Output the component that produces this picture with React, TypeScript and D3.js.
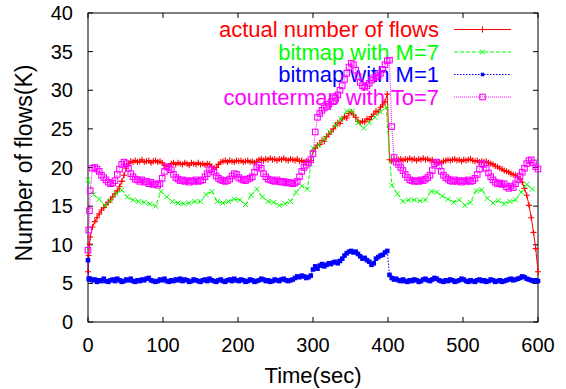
import React from 'react';
import * as d3 from 'd3';

const W = 566;
const H = 389;

const X_TICKS = [0, 100, 200, 300, 400, 500, 600];
const Y_TICKS = [0, 5, 10, 15, 20, 25, 30, 35, 40];

// common time axis (sec) for actual / bitmap M=1 / countermap
const TIME = [
  0, 1, 2,
  3, 6, 9, 12, 15, 18, 21, 24, 27, 30,
  33, 36, 39, 42, 45, 48, 51, 54, 57, 60,
  63, 66, 69, 72, 75, 78, 81, 84, 87, 90,
  93, 96, 99, 102, 105, 108, 111, 114, 117, 120,
  123, 126, 129, 132, 135, 138, 141, 144, 147, 150,
  153, 156, 159, 162, 165, 168, 171, 174, 177, 180,
  183, 186, 189, 192, 195, 198, 201, 204, 207, 210,
  213, 216, 219, 222, 225, 228, 231, 234, 237, 240,
  243, 246, 249, 252, 255, 258, 261, 264, 267, 270,
  273, 276, 279, 282, 285, 288, 291, 294, 297, 300,
  303, 306, 309, 312, 315, 318, 321, 324, 327, 330,
  333, 336, 339, 342, 345, 348, 351, 354, 357, 360,
  363, 366, 369, 372, 375, 378, 381, 384, 387, 390,
  393, 396, 399, 402, 405, 408, 411, 414, 417, 420,
  423, 426, 429, 432, 435, 438, 441, 444, 447, 450,
  453, 456, 459, 462, 465, 468, 471, 474, 477, 480,
  483, 486, 489, 492, 495, 498, 501, 504, 507, 510,
  513, 516, 519, 522, 525, 528, 531, 534, 537, 540,
  543, 546, 549, 552, 555, 558, 561, 564, 567, 570,
  573, 576, 579, 582, 585, 588, 591, 594, 597, 600,
];

const ACTUAL = [
  6.5, 8.6, 10.1,
  11.0, 12.3, 13.0, 13.5, 14.0, 14.5, 14.8, 15.2, 15.5, 15.8,
  16.2, 16.6, 17.0, 17.5, 18.2, 19.0, 19.9, 20.5, 20.8, 20.7,
  20.9, 20.7, 20.8, 21.0, 20.7, 20.8, 20.9, 20.6, 20.8, 20.9,
  20.7, 20.8, 20.6, 20.3, 20.1, 20.2, 20.5, 20.6, 20.4, 20.6,
  20.5, 20.4, 20.6, 20.5, 20.3, 20.6, 20.5, 20.4, 20.6, 20.4,
  20.5, 20.3, 20.5, 20.4, 20.1, 19.9, 20.0, 20.4, 20.7, 20.8,
  20.9, 20.7, 20.9, 20.8, 20.7, 20.9, 20.8, 20.9, 20.7, 20.8,
  20.9, 20.7, 20.8, 20.6, 20.8, 21.0, 21.1, 20.9, 21.1, 21.0,
  21.2, 21.0, 21.1, 20.9, 21.1, 21.0, 21.2, 21.0, 20.9, 21.1,
  21.0, 20.9, 21.1, 20.8, 20.9, 20.7, 20.8, 20.7, 20.9, 22.1,
  22.5, 22.9, 23.0, 23.5, 23.4, 24.0, 24.3, 24.6, 25.0, 25.4,
  25.8, 25.7, 26.3, 26.6, 26.4, 27.0, 27.2, 26.8, 26.5, 26.0,
  25.8, 26.0, 25.9, 26.3, 26.2, 26.6, 26.9, 27.3, 27.2, 27.8,
  28.1, 28.5, 29.5, 21.0, 20.8, 21.1, 20.9, 21.0, 21.1, 20.9,
  21.1, 21.0, 21.2, 21.0, 21.1, 20.9, 21.1, 21.0, 21.2, 21.0,
  21.1, 20.9, 21.0, 20.7, 20.6, 20.7, 20.6, 20.8, 20.9, 21.0,
  20.9, 21.0, 21.1, 20.9, 21.0, 20.8, 21.0, 20.9, 21.0, 21.1,
  20.9, 20.8, 20.9, 20.7, 20.8, 20.7, 20.8, 20.6, 20.5, 20.4,
  20.2, 20.1, 19.9, 19.8, 19.6, 19.5, 19.4, 19.2, 19.1, 19.0,
  18.8, 18.5, 18.1, 17.3, 16.4, 15.1, 13.5, 11.6, 9.5, 6.5,
];

const BITMAP_M1 = [
  8.0, 5.6, 5.5,
  5.6, 5.4, 5.5, 5.2, 5.4, 5.3, 5.6, 5.3, 5.2, 5.4,
  5.5, 5.3, 5.6, 5.4, 5.2, 5.3, 5.5, 5.4, 5.6, 5.3,
  5.2, 5.4, 5.3, 5.5, 5.4, 5.6, 5.7, 5.4, 5.3, 5.2,
  5.3, 5.5, 5.4, 5.6, 5.3, 5.2, 5.4, 5.3, 5.5, 5.4,
  5.6, 5.3, 5.5, 5.4, 5.2, 5.3, 5.5, 5.4, 5.3, 5.2,
  5.4, 5.5, 5.3, 5.6, 5.4, 5.3, 5.2, 5.4, 5.5, 5.3,
  5.2, 5.4, 5.5, 5.3, 5.6, 5.4, 5.3, 5.5, 5.4, 5.2,
  5.3, 5.5, 5.4, 5.2, 5.3, 5.4, 5.6, 5.5, 5.3, 5.4,
  5.2, 5.3, 5.5, 5.4, 5.3, 5.5, 5.6, 5.4, 5.3, 5.4,
  5.5, 5.7, 5.9, 5.8, 6.0, 5.9, 5.7, 5.8, 6.0, 6.8,
  7.2, 6.9, 7.3, 7.5, 7.2, 7.4, 7.6, 7.5, 7.7, 7.8,
  7.6, 7.9, 8.2, 8.6, 8.9, 9.1, 9.2, 9.0, 9.1, 8.8,
  8.5, 8.2, 8.3, 8.0, 7.8, 7.4, 7.6, 8.2, 8.4, 8.6,
  8.7, 9.0, 9.2, 6.1, 5.7, 5.5, 5.6, 5.4, 5.3, 5.5,
  5.3, 5.2, 5.4, 5.3, 5.5, 5.4, 5.2, 5.3, 5.5, 5.6,
  5.4, 5.3, 5.5, 5.7, 5.6, 5.4, 5.3, 5.2, 5.4, 5.3,
  5.5, 5.4, 5.2, 5.3, 5.4, 5.6, 5.5, 5.3, 5.2, 5.4,
  5.3, 5.2, 5.4, 5.5, 5.3, 5.4, 5.2, 5.3, 5.5, 5.4,
  5.2, 5.3, 5.4, 5.2, 5.3, 5.4, 5.5, 5.6, 5.4, 5.5,
  5.6, 5.7, 5.9, 5.8, 5.6, 5.5, 5.4, 5.3, 5.4, 5.3,
];

const COUNTERMAP = [
  9.3, 11.9, 14.4,
  17.0, 19.9, 20.0, 19.8, 19.5, 19.0, 18.7, 18.4, 18.1, 17.9,
  18.0, 18.3, 19.1, 19.8, 20.4, 20.7, 20.5, 19.9, 19.2, 18.8,
  18.5, 18.4, 18.2, 18.4, 18.1, 18.2, 17.9, 18.1, 17.8, 17.9,
  17.7, 17.9, 18.6, 19.5, 20.1, 20.0, 19.7, 19.1, 18.7, 18.5,
  18.3, 18.4, 18.2, 18.3, 18.1, 18.3, 18.2, 18.4, 18.2, 18.3,
  18.4, 18.8, 19.2, 19.7, 19.8, 19.4, 18.9, 18.6, 18.4, 18.3,
  18.2, 18.3, 18.5, 18.9, 19.2, 19.1, 18.7, 18.5, 18.4, 18.3,
  18.5, 18.6, 18.8, 19.4, 20.0, 20.3, 19.9, 19.2, 18.8, 18.5,
  18.4, 18.3, 18.2, 18.4, 18.2, 18.1, 18.2, 18.0, 18.1, 18.0,
  17.9, 18.0, 18.2, 18.8, 19.5, 20.0, 20.3, 20.6, 21.0, 21.8,
  24.6, 26.5, 27.0, 27.4, 27.7, 27.9, 28.2, 28.5, 28.6, 29.0,
  29.4, 30.0, 30.6, 31.4, 32.2, 33.0, 33.5, 33.3, 32.6, 31.8,
  31.0, 30.6, 30.4, 30.6, 30.9, 31.3, 31.6, 31.7, 31.9, 32.2,
  32.7, 33.3, 33.8, 33.9, 25.3, 21.3, 20.7, 20.4, 20.0, 19.6,
  19.1, 18.7, 18.4, 18.3, 18.2, 18.3, 18.2, 18.4, 18.3, 18.5,
  18.7, 19.0, 19.6, 20.5, 20.7, 20.2, 19.5, 19.0, 18.7, 18.5,
  18.3, 18.2, 18.4, 18.2, 18.3, 18.1, 18.3, 18.2, 18.4, 18.2,
  18.3, 18.6, 19.1, 19.8, 20.5, 20.4, 19.9, 19.3, 18.8, 18.4,
  18.1, 17.9, 18.0, 17.8, 17.9, 17.5, 17.3, 17.6, 17.4, 17.9,
  18.4, 18.9, 19.4, 19.9, 20.5, 20.9, 21.0, 20.6, 20.1, 19.8,
];

// bitmap M=7 is sampled on its own, coarser time axis
const GREEN_TIME = [
  0, 7.5, 15, 22.5, 30, 37.5, 45, 52.5,
  60, 67.5, 75, 82.5, 90, 97.5, 105, 112.5,
  120, 127.5, 135, 142.5, 150, 157.5, 165, 172.5,
  180, 187.5, 195, 202.5, 210, 217.5, 225, 232.5,
  240, 247.5, 255, 262.5, 270, 277.5, 285, 292.5,
  300, 307.5, 315, 322.5, 330, 337.5, 345, 352.5,
  360, 367.5, 375, 382.5, 390, 397.5, 405, 412.5,
  420, 427.5, 435, 442.5, 450, 457.5, 465, 472.5,
  480, 487.5, 495, 502.5, 510, 517.5, 525, 532.5,
  540, 547.5, 555, 562.5, 570, 577.5, 585, 592.5,
];

const BITMAP_M7 = [
  18.4, 16.5, 15.9, 15.1, 15.7, 16.6, 17.1, 16.2,
  15.8, 15.6, 15.5, 15.3, 15.0, 16.9, 16.2, 15.6,
  15.4, 15.3, 15.4, 15.6, 15.6, 16.5, 16.9, 15.6,
  15.4, 15.6, 15.9, 15.8, 15.2, 16.4, 17.2, 16.2,
  15.6, 15.5, 15.1, 15.3, 15.6, 16.8, 17.6, 17.2,
  22.5, 22.9, 23.7, 24.6, 25.5, 26.3, 27.3, 27.3,
  25.8, 25.1, 25.8, 26.5, 27.2, 27.8, 17.7, 16.6,
  15.6, 15.8, 15.8, 15.7, 15.8, 16.9, 16.8, 16.3,
  15.9, 15.5, 15.8, 15.1, 15.5, 17.0, 17.1, 16.0,
  15.4, 15.7, 15.3, 15.6, 15.8, 16.8, 17.8, 17.2,
];

const LEGEND = [
  'actual number of flows',
  'bitmap with M=7',
  'bitmap with M=1',
  'countermap with To=7',
];

type Marker = 'plus' | 'cross' | 'fsquare' | 'osquare';

const SERIES: { name: string; times: number[]; values: number[]; color: string; dash: string | undefined; marker: Marker }[] = [
  { name: LEGEND[0], times: TIME, values: ACTUAL, color: '#ff0000', dash: undefined, marker: 'plus' },
  { name: LEGEND[1], times: GREEN_TIME, values: BITMAP_M7, color: '#00ff00', dash: '4,2', marker: 'cross' },
  { name: LEGEND[2], times: TIME, values: BITMAP_M1, color: '#0000ff', dash: '1.5,1.5', marker: 'fsquare' },
  { name: LEGEND[3], times: TIME, values: COUNTERMAP, color: '#ff00ff', dash: '1,1', marker: 'osquare' },
];

const FONT = '"Liberation Sans", Arial, Helvetica, sans-serif';

function MarkerShape({ type, x, y, color, legend }: { type: Marker; x: number; y: number; color: string; legend?: boolean }) {
  if (type === 'plus') {
    return <path d={`M${x - 3},${y}H${x + 3}M${x},${y - 3}V${y + 3}`} stroke={color} strokeWidth={1.1} fill="none" />;
  }
  if (type === 'cross') {
    return <path d={`M${x - 2.5},${y - 2.5}L${x + 2.5},${y + 2.5}M${x - 2.5},${y + 2.5}L${x + 2.5},${y - 2.5}`} stroke={color} strokeWidth={1} fill="none" />;
  }
  if (type === 'fsquare') {
    const s = legend ? 3.5 : 4.6;
    return <rect x={x - s / 2} y={y - s / 2} width={s} height={s} fill={color} />;
  }
  return <rect x={x - 2.75} y={y - 2.75} width={5.5} height={5.5} fill="none" stroke={color} strokeWidth={1.1} />;
}

export default function App() {
  const left = 88, right = 538, top = 13, bottom = 322;
  const x = d3.scaleLinear().domain([0, 600]).range([left, right]);
  const y = d3.scaleLinear().domain([0, 40]).range([bottom, top]);
  const tick = 5;

  const legendTextX = 439;
  const legendLineX0 = 454;
  const legendLineX1 = 511;
  const legendY0 = 29.5;
  const legendDy = 22.5;

  return (
    <svg width={W} height={H} style={{ position: 'fixed', left: 0, top: 0, background: '#fff' }} fontFamily={FONT}>
      <rect x={0} y={0} width={W} height={H} fill="#fff" />
      {X_TICKS.map((t) => (
        <g key={'xt' + t}>
          <line x1={x(t)} x2={x(t)} y1={bottom} y2={bottom - tick} stroke="#000" strokeWidth={1} />
          <line x1={x(t)} x2={x(t)} y1={top} y2={top + tick} stroke="#000" strokeWidth={1} />
          <text x={x(t)} y={352} textAnchor="middle" fontSize={20} fill="#000">{t}</text>
        </g>
      ))}
      {Y_TICKS.map((t) => (
        <g key={'yt' + t}>
          <line x1={left} x2={left + tick} y1={y(t)} y2={y(t)} stroke="#000" strokeWidth={1} />
          <line x1={right} x2={right - tick} y1={y(t)} y2={y(t)} stroke="#000" strokeWidth={1} />
          <text x={73} y={y(t) + 7} textAnchor="end" fontSize={20} fill="#000">{t}</text>
        </g>
      ))}
      <rect x={left} y={top} width={right - left} height={bottom - top} fill="none" stroke="#000" strokeWidth={1} />

      <text x={(left + right) / 2} y={383} textAnchor="middle" fontSize={22} fill="#000">Time(sec)</text>
      <text transform="translate(32,163)rotate(-90)" textAnchor="middle" fontSize={23} fill="#000">Number of flows(K)</text>

      {SERIES.map((s, i) => {
        const ly = legendY0 + i * legendDy;
        return (
          <g key={'lg' + i}>
            <text x={legendTextX} y={ly + 7.5} textAnchor="end" fontSize={22} fill={s.color}>{s.name}</text>
            <line x1={legendLineX0} x2={legendLineX1} y1={ly} y2={ly} stroke={s.color} strokeWidth={1} strokeDasharray={s.dash} />
            <MarkerShape type={s.marker} x={(legendLineX0 + legendLineX1) / 2} y={ly} color={s.color} legend />
          </g>
        );
      })}

      {SERIES.map((s, i) => {
        const line = d3.line<number>().x((_, j) => x(s.times[j])).y((d) => y(d));
        return (
          <g key={'s' + i}>
            <path d={line(s.values) || ''} fill="none" stroke={s.color} strokeWidth={1} strokeDasharray={s.dash} />
            {s.values.map((v, j) => (
              <MarkerShape key={j} type={s.marker} x={x(s.times[j])} y={y(v)} color={s.color} />
            ))}
          </g>
        );
      })}
    </svg>
  );
}
